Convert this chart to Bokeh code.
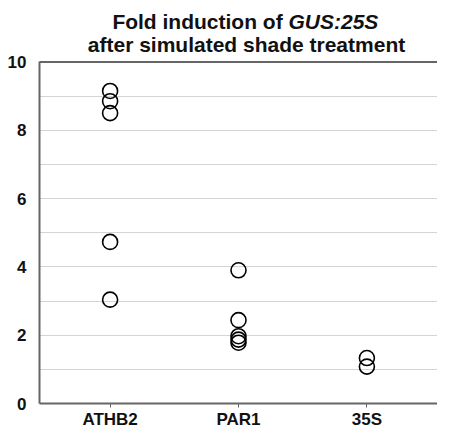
from bokeh.plotting import figure
from bokeh.models import FixedTicker, SingleIntervalTicker, Span, Label, FactorRange
from bokeh.embed import file_html
from bokeh.resources import INLINE

categories = ["ATHB2", "PAR1", "35S"]
athb2 = [9.15, 8.85, 8.5, 4.73, 3.04]
par1 = [3.9, 2.44, 1.97, 1.87, 1.78]
s35 = [1.33, 1.08]
y_ticks = [0, 2, 4, 6, 8, 10]
y_max = 10

xs = [categories[0]] * len(athb2) + [categories[1]] * len(par1) + [categories[2]] * len(s35)
ys = athb2 + par1 + s35

FONT = "Liberation Sans"
W, H = 437, 431
BORDER_BOTTOM = 24
TOP_SPACE = 62  # room for the title above the value area
frame_h = H - BORDER_BOTTOM
y_end = y_max * frame_h / (frame_h - TOP_SPACE)

p = figure(width=W, height=H, output_backend="svg", toolbar_location=None,
           x_range=FactorRange(*categories, range_padding=0.05, range_padding_units="absolute"),
           y_range=(0, y_end),
           min_border_left=39, min_border_right=0, min_border_top=0,
           min_border_bottom=BORDER_BOTTOM)
p.outline_line_color = None

p.scatter(xs, ys, size=15, fill_color=None, line_color="black", line_width=1.6)

# axes
p.yaxis.ticker = FixedTicker(ticks=y_ticks)
p.yaxis.bounds = (0, y_max)
p.yaxis.minor_tick_line_color = None
p.yaxis.major_tick_line_color = None
p.yaxis.major_label_standoff = 7
for ax in (p.xaxis[0], p.yaxis[0]):
    ax.axis_line_color = "#666666"
    ax.axis_line_width = 2
    ax.major_label_text_font = FONT
    ax.major_label_text_font_style = "bold"
    ax.major_label_text_font_size = "17px"
    ax.major_label_text_color = "#111111"
p.xaxis.major_tick_in = 0
p.xaxis.major_tick_out = 4
p.xaxis.major_tick_line_color = "#666666"
p.xaxis.major_label_standoff = 2

p.xgrid.grid_line_color = None
p.ygrid.ticker = SingleIntervalTicker(interval=1)
p.ygrid.bounds = (0, y_max - 0.5)
p.ygrid.grid_line_color = "#d4d4d4"
p.ygrid.grid_line_width = 1

p.add_layout(Span(location=y_max, dimension="width", line_color="#666666", line_width=2))

# title
common = dict(x_units="screen", y=y_max, text_baseline="middle", text_font=FONT,
              text_font_size="21px", text_color="#111111")
p.add_layout(Label(x=249, y_offset=40, text="Fold induction of ", text_align="right",
                   text_font_style="bold", **common))
p.add_layout(Label(x=249, y_offset=40, text="GUS:25S", text_align="left",
                   text_font_style="bold italic", **common))
p.add_layout(Label(x=207, y_offset=17, text="after simulated shade treatment",
                   text_align="center", text_font_style="bold", **common))

open("out.html", "w").write(file_html(p, INLINE))
